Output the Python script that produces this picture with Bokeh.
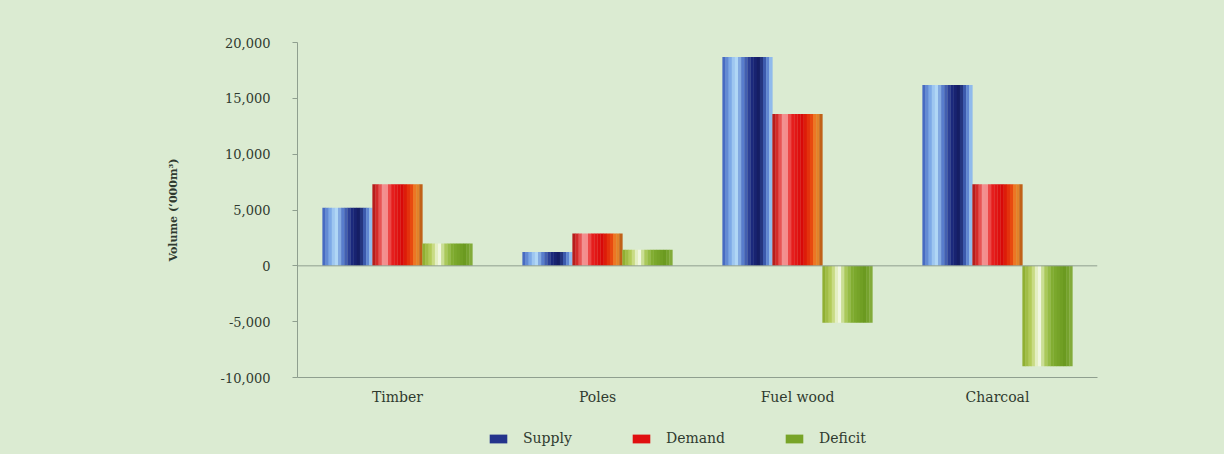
import numpy as np
from bokeh.plotting import figure
from bokeh.layouts import column
from bokeh.models import (FactorRange, Range1d, ColumnDataSource, FixedTicker,
                          NumeralTickFormatter, Span, Legend, LegendItem)
from bokeh.transform import dodge
from bokeh.embed import file_html
from bokeh.resources import INLINE

# ---- data ----
categories = ["Timber", "Poles", "Fuel wood", "Charcoal"]
supply = [5200, 1250, 18700, 16200]
demand = [7300, 2900, 13600, 7300]
deficit = [2000, 1450, -5100, -9000]
series_names = ["Supply", "Demand", "Deficit"]
y_ticks = [-10000, -5000, 0, 5000, 10000, 15000, 20000]

# ---- style ----
BG = "#dbebd2"
AXIS = "#8f9f8f"
TEXT = "#2f3a2f"
FONT = "DejaVu Serif"
gradients = {
    "Supply": [(0.0, "#3a5cb8"), (0.15, "#7aa6e6"), (0.27, "#b8def8"), (0.40, "#5a80d0"),
               (0.58, "#1c2a80"), (0.74, "#141c60"), (0.88, "#4a70c8"), (1.0, "#a8d4f8")],
    "Demand": [(0.0, "#a81515"), (0.12, "#e03030"), (0.25, "#f8b0b0"), (0.38, "#e82020"),
               (0.60, "#d80808"), (0.78, "#e84810"), (0.88, "#f09030"), (1.0, "#b05010")],
    "Deficit": [(0.0, "#88a828"), (0.18, "#b8d060"), (0.33, "#f8fcf0"), (0.45, "#b0cc60"),
                (0.60, "#80ac30"), (0.85, "#6a9a20"), (1.0, "#88b040")],
}
legend_color = {"Supply": "#24348c", "Demand": "#e01010", "Deficit": "#78a428"}


def hex2rgb(h):
    h = h.lstrip("#")
    return np.array([int(h[i:i + 2], 16) for i in (0, 2, 4)], dtype=float)


def sample(stops, t):
    for (p0, c0), (p1, c1) in zip(stops[:-1], stops[1:]):
        if p0 <= t <= p1:
            f = (t - p0) / (p1 - p0) if p1 > p0 else 0
            c = hex2rgb(c0) * (1 - f) + hex2rgb(c1) * f
            return "#%02x%02x%02x" % tuple(int(round(v)) for v in c)
    return stops[-1][1]


W = 1224
LEFT, RIGHT = 297, W - 1097
BOTTOM = 36
H1 = 377 + BOTTOM
STY = {"background-color": BG}
source = ColumnDataSource(dict(cat=categories, Supply=supply, Demand=demand, Deficit=deficit))

p = figure(x_range=FactorRange(*categories, range_padding=0),
           y_range=Range1d(-10000, 20000),
           width=W, height=H1, output_backend="svg", toolbar_location=None,
           min_border_left=LEFT, min_border_right=RIGHT, min_border_top=42,
           min_border_bottom=BOTTOM, styles=STY)
p.background_fill_color = BG
p.border_fill_color = BG
p.outline_line_color = None
p.grid.visible = False

bar_w = 0.25
n_stripes = 16
offsets = {"Supply": -0.25, "Demand": 0.0, "Deficit": 0.25}
for name in series_names:
    sw = bar_w / n_stripes
    for k in range(n_stripes):
        t = (k + 0.5) / n_stripes
        off = offsets[name] - bar_w / 2 + (k + 0.5) * sw
        p.vbar(x=dodge("cat", off, range=p.x_range), top=name, bottom=0,
               width=sw * 1.08, source=source,
               fill_color=sample(gradients[name], t), line_color=None)

p.add_layout(Span(location=0, dimension="width", line_color=AXIS, line_width=1))

# y axis
ya = p.yaxis[0]
ya.ticker = FixedTicker(ticks=y_ticks)
ya.formatter = NumeralTickFormatter(format="0,0")
ya.axis_line_color = AXIS
ya.major_tick_line_color = AXIS
ya.major_tick_out = 5
ya.major_tick_in = 0
ya.minor_tick_line_color = None
ya.major_label_standoff = 22
ya.major_label_text_font = FONT
ya.major_label_text_font_size = "13px"
ya.major_label_text_color = TEXT
ya.axis_label = "Volume (\u2018000m\u00b3)"
ya.axis_label_text_font = FONT
ya.axis_label_text_font_size = "11px"
ya.axis_label_text_font_style = "bold"
ya.axis_label_text_color = TEXT
ya.axis_label_standoff = 38

# x axis
xa = p.xaxis[0]
xa.axis_line_color = AXIS
xa.major_tick_line_color = None
xa.minor_tick_line_color = None
xa.major_label_standoff = 5
xa.major_label_text_font = FONT
xa.major_label_text_font_size = "14px"
xa.major_label_text_color = TEXT

# ---- legend strip (separate figure below the chart) ----
lg = figure(width=W, height=41, x_range=Range1d(0, 1), y_range=Range1d(0, 1),
            output_backend="svg", toolbar_location=None,
            min_border_left=LEFT, min_border_right=RIGHT,
            min_border_top=0, min_border_bottom=0, styles=STY)
lg.axis.visible = False
lg.grid.visible = False
lg.outline_line_color = None
lg.background_fill_color = BG
lg.border_fill_color = BG
items = []
for name in series_names:
    proxy = ColumnDataSource(dict(x=[float("nan")], top=[float("nan")]))
    r = lg.vbar(x="x", top="top", width=0.1, source=proxy,
                fill_color=legend_color[name], line_color=None)
    items.append(LegendItem(label=name, renderers=[r]))
legend = Legend(items=items, orientation="horizontal", location=(190, 8),
                background_fill_alpha=0, border_line_color=None,
                label_text_font=FONT, label_text_font_size="14px", label_text_color=TEXT,
                label_height=14, glyph_width=22, glyph_height=11, label_standoff=14,
                spacing=58, padding=2, margin=0)
lg.add_layout(legend, "center")

layout = column(p, lg, spacing=0, styles=STY)
open("out.html", "w").write(file_html(layout, INLINE))
